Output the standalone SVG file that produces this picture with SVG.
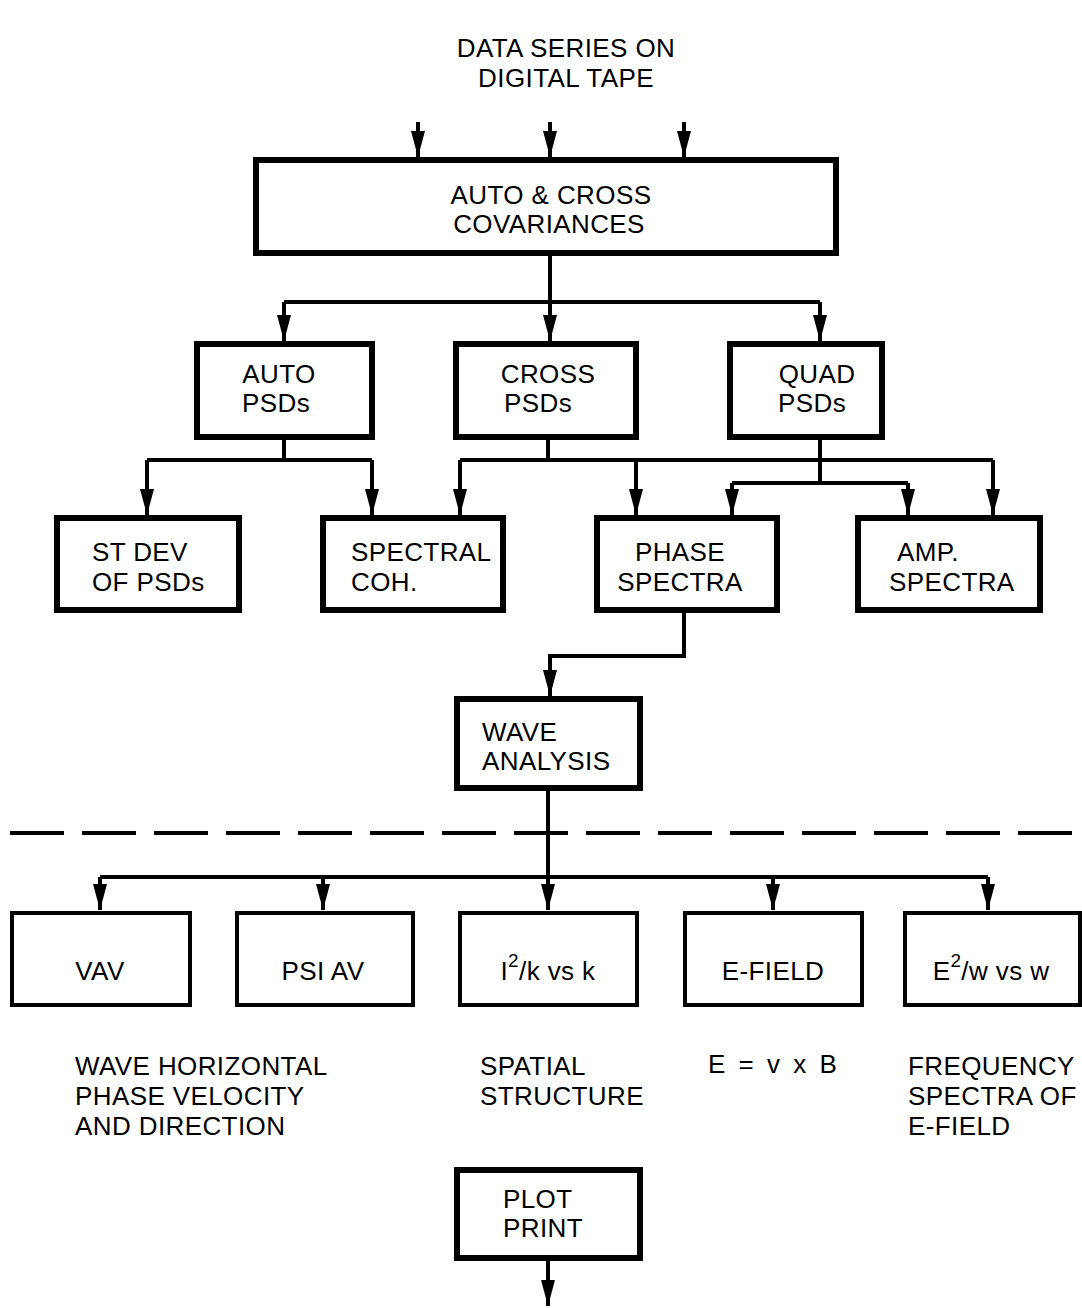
<svg xmlns="http://www.w3.org/2000/svg" width="1082" height="1308" viewBox="0 0 1082 1308">
<style>
text{font-family:"Liberation Sans",Arial,sans-serif;font-size:26px;letter-spacing:0.4px;fill:#000}
.c{text-anchor:middle}
.box{fill:#fff;stroke:#000;stroke-width:6}
.box2{fill:#fff;stroke:#000;stroke-width:4}
.ln{fill:none;stroke:#000;stroke-width:4}
</style>
<defs>
<marker id="dn" markerUnits="userSpaceOnUse" markerWidth="14" markerHeight="28" refX="7" refY="28" orient="0" viewBox="0 0 14 28">
<path d="M0,2 L14,2 L7,28 Z" fill="#000"/>
</marker>
</defs>
<g id="title">
<text class="c" x="566" y="57">DATA SERIES ON</text>
<text class="c" x="566" y="87">DIGITAL TAPE</text>
</g>
<g id="connectors">
<path class="ln" d="M418,122 V157" marker-end="url(#dn)"/>
<path class="ln" d="M550,122 V157" marker-end="url(#dn)"/>
<path class="ln" d="M684,122 V157" marker-end="url(#dn)"/>
<path class="ln" d="M550,256 V302"/>
<path class="ln" d="M284,302 H820"/>
<path class="ln" d="M284,302 V341" marker-end="url(#dn)"/>
<path class="ln" d="M550,302 V341" marker-end="url(#dn)"/>
<path class="ln" d="M820,302 V341" marker-end="url(#dn)"/>
<path class="ln" d="M284,440 V460 M147,460 H372"/>
<path class="ln" d="M147,460 V515" marker-end="url(#dn)"/>
<path class="ln" d="M372,460 V515" marker-end="url(#dn)"/>
<path class="ln" d="M548,440 V460 M460,460 H993"/>
<path class="ln" d="M460,460 V515" marker-end="url(#dn)"/>
<path class="ln" d="M636,460 V515" marker-end="url(#dn)"/>
<path class="ln" d="M993,460 V515" marker-end="url(#dn)"/>
<path class="ln" d="M820,440 V483 M732,483 H908"/>
<path class="ln" d="M732,483 V515" marker-end="url(#dn)"/>
<path class="ln" d="M908,483 V515" marker-end="url(#dn)"/>
<path class="ln" d="M684,613 V656 H550 V696" marker-end="url(#dn)"/>
<path class="ln" d="M548,791 V910" marker-end="url(#dn)"/>
<path class="ln" d="M100,877 H988"/>
<path class="ln" d="M100,877 V910" marker-end="url(#dn)"/>
<path class="ln" d="M323,877 V910" marker-end="url(#dn)"/>
<path class="ln" d="M773,877 V910" marker-end="url(#dn)"/>
<path class="ln" d="M988,877 V910" marker-end="url(#dn)"/>
<path class="ln" d="M548,1261 V1306" marker-end="url(#dn)"/>
<path class="ln" d="M10,833 H1082" stroke-dasharray="54 18"/>
</g>
<g id="cov">
<rect class="box" x="256" y="160" width="580" height="93"/>
<text class="c" x="551" y="204">AUTO &amp; CROSS</text>
<text class="c" x="549" y="233">COVARIANCES</text>
</g>
<g id="auto">
<rect class="box" x="197" y="344" width="175" height="93"/>
<text class="c" x="279" y="383">AUTO</text>
<text class="c" x="276" y="412">PSDs</text>
</g>
<g id="cross">
<rect class="box" x="456" y="344" width="180" height="93"/>
<text class="c" x="548" y="383">CROSS</text>
<text class="c" x="538" y="412">PSDs</text>
</g>
<g id="quad">
<rect class="box" x="730" y="344" width="152" height="93"/>
<text class="c" x="817" y="383">QUAD</text>
<text class="c" x="812" y="412">PSDs</text>
</g>
<g id="stdev">
<rect class="box" x="57" y="518" width="182" height="92"/>
<text x="92" y="561">ST DEV</text>
<text x="92" y="591">OF PSDs</text>
</g>
<g id="coh">
<rect class="box" x="323" y="518" width="180" height="92"/>
<text x="351" y="561">SPECTRAL</text>
<text x="351" y="591">COH.</text>
</g>
<g id="phase">
<rect class="box" x="597" y="518" width="180" height="92"/>
<text class="c" x="680" y="561">PHASE</text>
<text class="c" x="680" y="591">SPECTRA</text>
</g>
<g id="amp">
<rect class="box" x="858" y="518" width="182" height="92"/>
<text x="897" y="561">AMP.</text>
<text x="889" y="591">SPECTRA</text>
</g>
<g id="wave">
<rect class="box" x="457" y="699" width="183" height="89"/>
<text x="482" y="741">WAVE</text>
<text x="482" y="770">ANALYSIS</text>
</g>
<g id="vav">
<rect class="box2" x="12" y="913" width="178" height="92"/>
<text class="c" x="100" y="980">VAV</text>
</g>
<g id="psi">
<rect class="box2" x="237" y="913" width="176" height="92"/>
<text class="c" x="323" y="980">PSI AV</text>
</g>
<g id="ik">
<rect class="box2" x="460" y="913" width="177" height="92"/>
<text class="c" x="548" y="980">I<tspan dy="-13" font-size="19">2</tspan><tspan dy="13">/k vs k</tspan></text>
</g>
<g id="efield">
<rect class="box2" x="685" y="913" width="177" height="92"/>
<text class="c" x="773" y="980">E-FIELD</text>
</g>
<g id="ew">
<rect class="box2" x="905" y="913" width="175" height="92"/>
<text class="c" x="991" y="980">E<tspan dy="-13" font-size="19">2</tspan><tspan dy="13">/w vs w</tspan></text>
</g>
<g id="notes">
<text x="75" y="1075">WAVE HORIZONTAL</text>
<text x="75" y="1105">PHASE VELOCITY</text>
<text x="75" y="1135">AND DIRECTION</text>
<text x="480" y="1075">SPATIAL</text>
<text x="480" y="1105">STRUCTURE</text>
<text x="708" y="1073" style="letter-spacing:3px">E = v x B</text>
<text x="908" y="1075">FREQUENCY</text>
<text x="908" y="1105">SPECTRA OF</text>
<text x="908" y="1135">E-FIELD</text>
</g>
<g id="plot">
<rect class="box" x="457" y="1170" width="183" height="88"/>
<text x="503" y="1208">PLOT</text>
<text x="503" y="1237">PRINT</text>
</g>
</svg>
